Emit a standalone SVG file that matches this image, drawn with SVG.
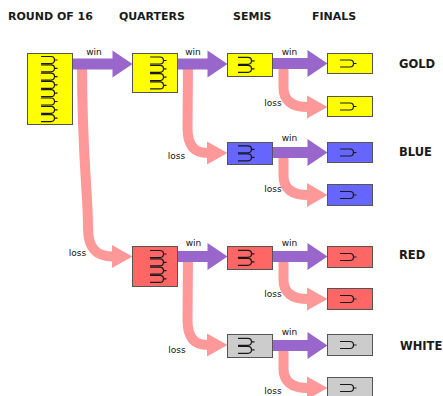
<svg xmlns="http://www.w3.org/2000/svg" xmlns:xlink="http://www.w3.org/1999/xlink" width="443" height="396" viewBox="0 0 443 396">
<style>
.hdr{font-family:"DejaVu Sans",Verdana,sans-serif;font-weight:bold;font-size:11px;fill:#1a1a1a}
.res{font-family:"DejaVu Sans",Verdana,sans-serif;font-weight:bold;font-size:11.5px;fill:#1a1a1a}
.lbl{font-family:"DejaVu Sans",Verdana,sans-serif;font-size:9px;fill:#111;text-anchor:middle}
.box{stroke:#555;stroke-width:1}
.y{fill:#FFFF00}.b{fill:#6666FF}.r{fill:#FF6666}.w{fill:#CCCCCC}
.loss{fill:none;stroke:#FF9999;stroke-width:10}
.lossh{fill:#FF9999}
.win{fill:#9966CC}
.gl{fill:none;stroke:#1a1a1a;stroke-width:1.2}
</style>
<defs>
<path id="g" class="gl" d="M0,0 H10 A3.5,3.5 0 0 1 10,7 H0 M13.5,3.5 H16.5"/>
</defs>
<rect width="443" height="396" fill="#fff"/>
<g id="headers">
<text class="hdr" x="8" y="20">ROUND OF 16</text>
<text class="hdr" x="119" y="20">QUARTERS</text>
<text class="hdr" x="233" y="20">SEMIS</text>
<text class="hdr" x="312" y="20">FINALS</text>
</g>
<g id="connectors">
<g id="loss-arrows">
<path class="loss" d="M82,62 C82,160 88,190 88,228 C88,248 96,256.5 113,256.5"/>
<polygon class="lossh" points="112,245 132.5,256.5 112,268"/>
<path class="loss" d="M188,62 L187.5,128 C187.5,145 194,153 208,153"/>
<polygon class="lossh" points="207,141.5 227.5,153 207,164.5"/>
<path class="loss" d="M188,255 L187.5,320 C187.5,337 194,345 208,345"/>
<polygon class="lossh" points="207,333.5 227.5,345 207,356.5"/>
<path class="loss" d="M283.5,62 L283.5,88 C283.5,100 291,107 308,107"/>
<polygon class="lossh" points="307,95.5 327.5,107 307,118.5"/>
<path class="loss" d="M283.5,152 L283.5,176 C283.5,188 291,195 308,195"/>
<polygon class="lossh" points="307,183 327.5,195 307,207"/>
<path class="loss" d="M283.5,256 L283.5,280 C283.5,292 291,299 308,299"/>
<polygon class="lossh" points="307,287.5 327.5,299 307,310.5"/>
<path class="loss" d="M283.5,345 L283.5,369 C283.5,381 291,388 308,388"/>
<polygon class="lossh" points="307,376.5 327.5,388 307,399.5"/>
</g>
<g id="win-arrows">
<polygon class="win" points="72.5,58.5 112.5,58.5 112.5,50.5 132.5,64 112.5,77.5 112.5,69.5 72.5,69.5"/>
<polygon class="win" points="177.5,58.5 207.5,58.5 207.5,50.5 227.5,64 207.5,77.5 207.5,69.5 177.5,69.5"/>
<polygon class="win" points="272.5,58 307.5,58 307.5,50 327.5,63.5 307.5,77 307.5,69 272.5,69"/>
<polygon class="win" points="272.5,147 307.5,147 307.5,139 327.5,152.5 307.5,166 307.5,158 272.5,158"/>
<polygon class="win" points="177.5,251 207.5,251 207.5,243 227.5,256.5 207.5,270 207.5,262 177.5,262"/>
<polygon class="win" points="272.5,251 307.5,251 307.5,243 327.5,256.5 307.5,270 307.5,262 272.5,262"/>
<polygon class="win" points="272.5,340 307.5,340 307.5,332 327.5,345.5 307.5,359 307.5,351 272.5,351"/>
</g>
<g id="labels">
<text class="lbl" x="94" y="55">win</text>
<text class="lbl" x="193" y="55">win</text>
<text class="lbl" x="289.5" y="55">win</text>
<text class="lbl" x="273" y="106">loss</text>
<text class="lbl" x="176.5" y="159">loss</text>
<text class="lbl" x="289.5" y="141">win</text>
<text class="lbl" x="273" y="192">loss</text>
<text class="lbl" x="77.5" y="256">loss</text>
<text class="lbl" x="193.5" y="246">win</text>
<text class="lbl" x="289.5" y="246">win</text>
<text class="lbl" x="273" y="297">loss</text>
<text class="lbl" x="177" y="353">loss</text>
<text class="lbl" x="289.5" y="335">win</text>
<text class="lbl" x="273" y="394">loss</text>
</g>
</g>
<g id="r16">
<rect class="box y" x="27.5" y="53.5" width="45" height="71"/>
<use xlink:href="#g" href="#g" x="41" y="56.5"/>
<use xlink:href="#g" href="#g" x="41" y="64.8"/>
<use xlink:href="#g" href="#g" x="41" y="73.1"/>
<use xlink:href="#g" href="#g" x="41" y="81.4"/>
<use xlink:href="#g" href="#g" x="41" y="89.7"/>
<use xlink:href="#g" href="#g" x="41" y="98"/>
<use xlink:href="#g" href="#g" x="41" y="106.3"/>
<use xlink:href="#g" href="#g" x="41" y="114.6"/>
</g>
<g id="q-gold">
<rect class="box y" x="132.5" y="53.5" width="45" height="39"/>
<use href="#g" x="150" y="57"/>
<use href="#g" x="150" y="65.3"/>
<use href="#g" x="150" y="73.6"/>
<use href="#g" x="150" y="81.9"/>
</g>
<g id="q-red">
<rect class="box r" x="132.5" y="246.5" width="45" height="40"/>
<use href="#g" x="150" y="250.5"/>
<use href="#g" x="150" y="258.8"/>
<use href="#g" x="150" y="267.1"/>
<use href="#g" x="150" y="275.4"/>
</g>
<g id="s-gold">
<rect class="box y" x="227.5" y="53.5" width="45" height="23"/>
<use href="#g" x="238" y="57.3"/>
<use href="#g" x="238" y="65.3"/>
</g>
<g id="s-blue">
<rect class="box b" x="227.5" y="142.5" width="45" height="22"/>
<use href="#g" x="238" y="145.8"/>
<use href="#g" x="238" y="153.8"/>
</g>
<g id="s-red">
<rect class="box r" x="227.5" y="246.5" width="45" height="23"/>
<use href="#g" x="238" y="250.3"/>
<use href="#g" x="238" y="258.3"/>
</g>
<g id="s-white">
<rect class="box w" x="227.5" y="334.5" width="45" height="23"/>
<use href="#g" x="238" y="338.3"/>
<use href="#g" x="238" y="346.3"/>
</g>
<g id="f-gold-1">
<rect class="box y" x="327.5" y="53.5" width="45" height="20"/>
<use href="#g" x="340" y="60"/>
</g>
<g id="f-gold-2">
<rect class="box y" x="327.5" y="96.5" width="45" height="20"/>
<use href="#g" x="340" y="103"/>
</g>
<g id="f-blue-1">
<rect class="box b" x="327.5" y="142.5" width="45" height="20"/>
<use href="#g" x="340" y="149"/>
</g>
<g id="f-blue-2">
<rect class="box b" x="327.5" y="184.5" width="45" height="21"/>
<use href="#g" x="340" y="191.5"/>
</g>
<g id="f-red-1">
<rect class="box r" x="327.5" y="246.5" width="45" height="21"/>
<use href="#g" x="340" y="253.5"/>
</g>
<g id="f-red-2">
<rect class="box r" x="327.5" y="288.5" width="45" height="21"/>
<use href="#g" x="340" y="295.5"/>
</g>
<g id="f-white-1">
<rect class="box w" x="327.5" y="334.5" width="45" height="21"/>
<use href="#g" x="340" y="341.5"/>
</g>
<g id="f-white-2">
<rect class="box w" x="327.5" y="377.5" width="45" height="21"/>
<use href="#g" x="340" y="384.5"/>
</g>
<g id="results">
<text class="res" x="399" y="68">GOLD</text>
<text class="res" x="399" y="156">BLUE</text>
<text class="res" x="399" y="259">RED</text>
<text class="res" x="400" y="350">WHITE</text>
</g>
</svg>
